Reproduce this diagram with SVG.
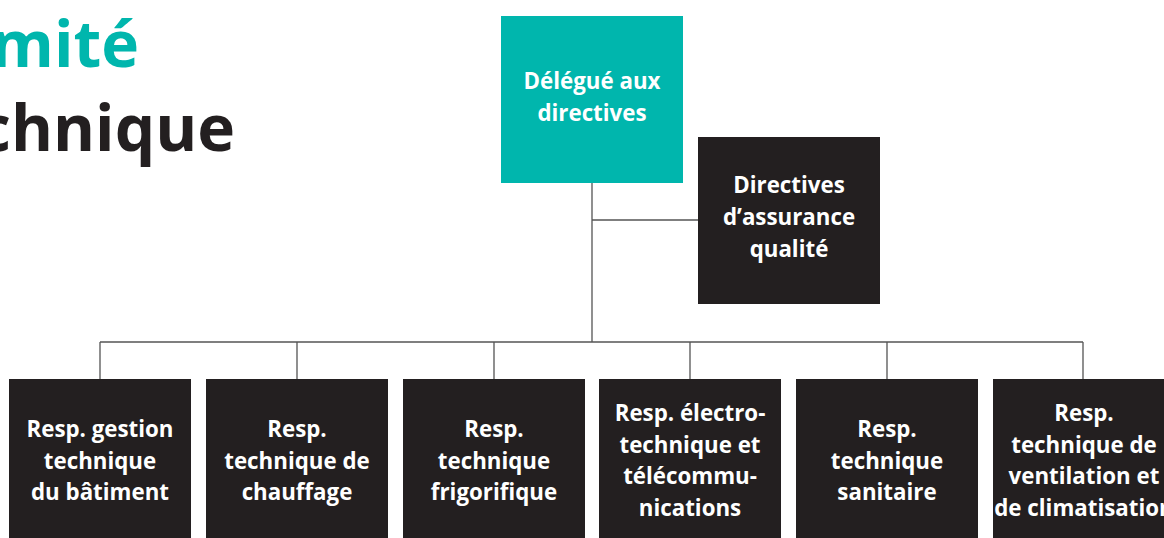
<svg xmlns="http://www.w3.org/2000/svg" width="1164" height="538" viewBox="0 0 1164 538">
<style>
.teal{fill:#00b6ad}
.dark{fill:#231f20}
.lbl{font-family:"Open Sans","Noto Sans",sans-serif;font-weight:700;font-size:22.3px;fill:#ffffff;text-anchor:middle}
.title{font-family:"Open Sans","Noto Sans",sans-serif;font-weight:700;font-size:64px;text-anchor:end}
.conn{stroke:#555555;stroke-width:1.3;fill:none}
</style>
<rect width="1164" height="538" fill="#ffffff"/>
<g id="title">
<text class="title" x="139" y="67" fill="#00b6ad">mité</text>
<text class="title" x="235" y="151" fill="#231f20">chnique</text>
</g>
<g id="connectors">
<path class="conn" d="M592 183 V342 M592 220 H698 M100 342 H1083 M100 342 V379 M297 342 V379 M494 342 V379 M690 342 V379 M887 342 V379 M1083 342 V379"/>
</g>
<g id="n-delegue">
<rect class="teal" x="501" y="16" width="182" height="167"/>
<text class="lbl" x="592" y="89">Délégué aux</text>
<text class="lbl" x="592" y="121">directives</text>
</g>
<g id="n-assurance">
<rect class="dark" x="698" y="137" width="182" height="167"/>
<text class="lbl" x="789" y="193">Directives</text>
<text class="lbl" x="789" y="225">d’assurance</text>
<text class="lbl" x="789" y="257">qualité</text>
</g>
<g id="n-batiment">
<rect class="dark" x="9" y="379" width="182" height="170"/>
<text class="lbl" x="100" y="437">Resp. gestion</text>
<text class="lbl" x="100" y="469">technique</text>
<text class="lbl" x="100" y="500">du bâtiment</text>
</g>
<g id="n-chauffage">
<rect class="dark" x="206" y="379" width="182" height="170"/>
<text class="lbl" x="297" y="437">Resp.</text>
<text class="lbl" x="297" y="469">technique de</text>
<text class="lbl" x="297" y="500">chauffage</text>
</g>
<g id="n-frigo">
<rect class="dark" x="403" y="379" width="182" height="170"/>
<text class="lbl" x="494" y="437">Resp.</text>
<text class="lbl" x="494" y="469">technique</text>
<text class="lbl" x="494" y="500">frigorifique</text>
</g>
<g id="n-electro">
<rect class="dark" x="599" y="379" width="182" height="170"/>
<text class="lbl" x="690" y="421">Resp. électro-</text>
<text class="lbl" x="690" y="453">technique et</text>
<text class="lbl" x="690" y="484">télécommu-</text>
<text class="lbl" x="690" y="516">nications</text>
</g>
<g id="n-sanitaire">
<rect class="dark" x="796" y="379" width="182" height="170"/>
<text class="lbl" x="887" y="437">Resp.</text>
<text class="lbl" x="887" y="469">technique</text>
<text class="lbl" x="887" y="500">sanitaire</text>
</g>
<g id="n-ventilation">
<rect class="dark" x="993" y="379" width="182" height="170"/>
<text class="lbl" x="1084" y="421">Resp.</text>
<text class="lbl" x="1084" y="453">technique de</text>
<text class="lbl" x="1084" y="484">ventilation et</text>
<text class="lbl" x="1084" y="516">de climatisation</text>
</g>
</svg>
